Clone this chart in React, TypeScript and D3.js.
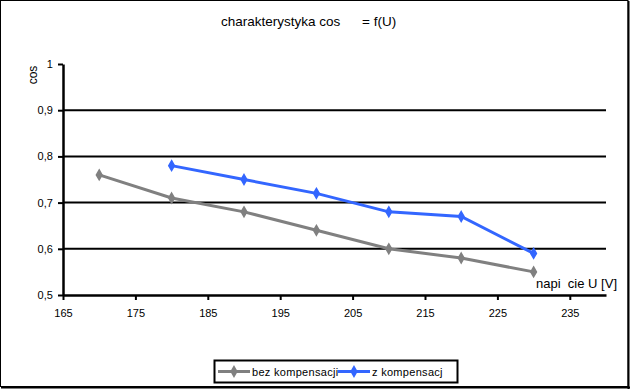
import * as d3 from "d3"
import { useRef, useEffect } from "react"

const voltages = [170, 180, 190, 200, 210, 220, 230]
const bezKomp = [0.76, 0.71, 0.68, 0.64, 0.60, 0.58, 0.55]
const zKompU = [180, 190, 200, 210, 220, 230]
const zKomp = [0.78, 0.75, 0.72, 0.68, 0.67, 0.59]
const xTicks = [165, 175, 185, 195, 205, 215, 225, 235]
const yTicks = [0.5, 0.6, 0.7, 0.8, 0.9, 1]
const seriesNames = ["bez kompensacji", "z kompensacj"]

export default function App() {
  const ref = useRef<SVGSVGElement>(null)

  useEffect(() => {
    const width = 630
    const height = 389
    const font = "'Liberation Sans', Arial, sans-serif"

    const svg = d3.select(ref.current)
    svg.selectAll("*").remove()
    svg.attr("width", width).attr("height", height)

    // outer frame
    svg.append("rect").attr("x", 0.5).attr("y", 0.5).attr("width", 627.5).attr("height", 386)
      .attr("fill", "white").attr("stroke", "black").attr("stroke-width", 1)
    svg.append("line").attr("x1", 628.5).attr("x2", 628.5).attr("y1", 1).attr("y2", 389)
      .attr("stroke", "black").attr("stroke-width", 2)
    svg.append("line").attr("x1", 1).attr("x2", 630).attr("y1", 387.5).attr("y2", 387.5)
      .attr("stroke", "black").attr("stroke-width", 2)

    const x = d3.scaleLinear().domain([165, 240]).range([63, 606])
    const y = d3.scaleLinear().domain([0.5, 1]).range([295, 64])

    // grid lines
    svg.append("g").selectAll("line")
      .data(yTicks.filter(d => d > 0.5 && d < 1))
      .join("line")
      .attr("x1", x(165)).attr("x2", x(240))
      .attr("y1", d => y(d)).attr("y2", d => y(d))
      .attr("stroke", "black").attr("stroke-width", 2)

    // x axis
    const gx = svg.append("g").attr("transform", `translate(0,${y(0.5)})`)
      .call(d3.axisBottom(x).tickValues(xTicks).tickSize(5).tickSizeOuter(0).tickFormat(d3.format("d")))
    gx.select(".domain").attr("stroke-width", 2.5)
    gx.selectAll(".tick line").attr("stroke-width", 2)
    gx.selectAll(".tick text").attr("font-family", font).attr("font-size", 11).attr("dy", "1.25em").attr("fill", "black")

    // y axis
    const gy = svg.append("g").attr("transform", `translate(${x(165)},0)`)
      .call(d3.axisLeft(y).tickValues(yTicks).tickSize(5).tickSizeOuter(0)
        .tickFormat(d => (d === 1 ? "1" : d3.format(".1f")(d as number).replace(".", ","))))
    gy.select(".domain").attr("stroke-width", 2.5)
    gy.selectAll(".tick line").attr("stroke-width", 2)
    gy.selectAll(".tick text").attr("font-family", font).attr("font-size", 11).attr("fill", "black").attr("dx", "-0.2em")

    const line = d3.line<[number, number]>().x(d => x(d[0])).y(d => y(d[1]))
    const series = [
      { name: seriesNames[0], color: "#808080", pts: voltages.map((v, i) => [v, bezKomp[i]] as [number, number]) },
      { name: seriesNames[1], color: "#3366ff", pts: zKompU.map((v, i) => [v, zKomp[i]] as [number, number]) },
    ]
    const marker = d3.symbol().type(d3.symbolDiamond).size(28)

    series.forEach(s => {
      svg.append("path").attr("d", line(s.pts)).attr("fill", "none")
        .attr("stroke", s.color).attr("stroke-width", 3)
      svg.append("g").selectAll("path").data(s.pts).join("path")
        .attr("transform", d => `translate(${x(d[0])},${y(d[1])})`)
        .attr("d", marker()).attr("fill", s.color).attr("stroke", s.color).attr("stroke-width", 1.5)
    })

    // titles
    svg.append("text").attr("x", 221).attr("y", 26)
      .attr("font-family", font).attr("font-size", 13.5)
      .text("charakterystyka cos")
    svg.append("text").attr("x", 362).attr("y", 26)
      .attr("font-family", font).attr("font-size", 13.5)
      .text("= f(U)")
    svg.append("text").attr("transform", "translate(37,75) rotate(-90)").attr("text-anchor", "middle")
      .attr("font-family", font).attr("font-size", 12).text("cos")
    svg.append("text").attr("x", 617).attr("y", 288).attr("text-anchor", "end")
      .attr("font-family", font).attr("font-size", 13).style("white-space", "pre").text("napi  cie U [V]")

    // legend
    const lg = svg.append("g")
    lg.append("rect").attr("x", 214.5).attr("y", 360.5).attr("width", 243).attr("height", 22)
      .attr("fill", "white").attr("stroke", "black").attr("stroke-width", 2)
    const lx = [218, 338]
    series.forEach((s, i) => {
      lg.append("line").attr("x1", lx[i]).attr("x2", lx[i] + 32).attr("y1", 371.5).attr("y2", 371.5)
        .attr("stroke", s.color).attr("stroke-width", 3)
      lg.append("path").attr("transform", `translate(${lx[i] + 16},371.5)`).attr("d", marker())
        .attr("fill", s.color).attr("stroke", s.color).attr("stroke-width", 1.5)
      lg.append("text").attr("x", lx[i] + 34).attr("y", 375.5)
        .attr("font-family", font).attr("font-size", 11).attr("letter-spacing", 0.3).text(s.name)
    })
  }, [])

  return (
    <div style={{ position: "absolute", left: 0, top: 0 }}>
      <svg ref={ref}></svg>
    </div>
  )
}
